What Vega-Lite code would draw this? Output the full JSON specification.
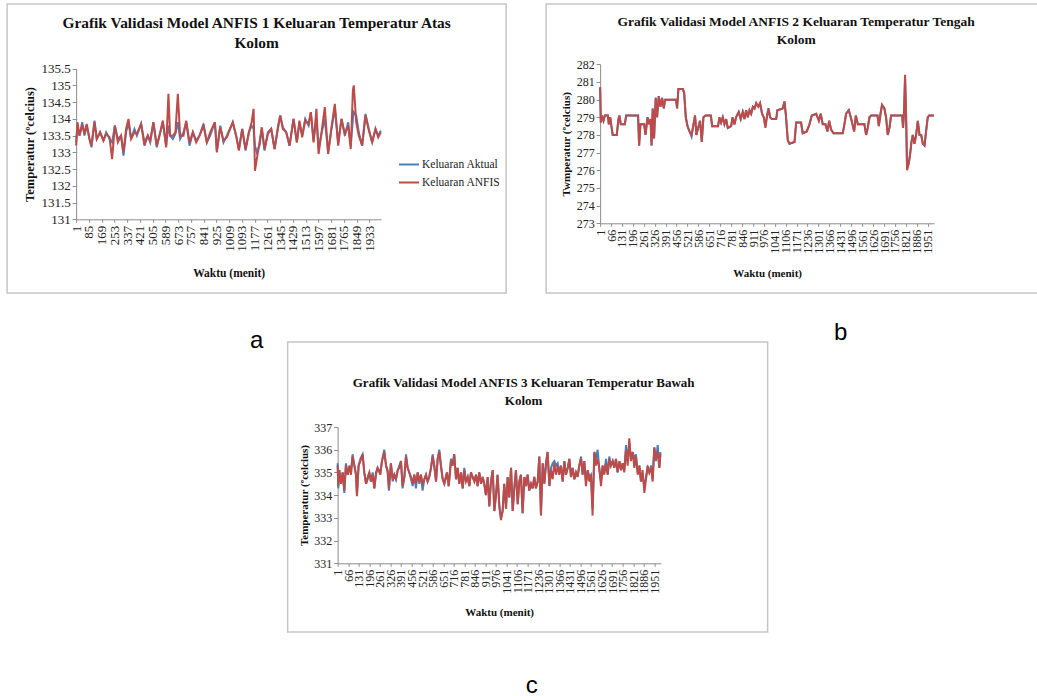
{
"$schema": "https://vega.github.io/schema/vega-lite/v6.json",
"padding": {"left": 6, "top": 3, "right": 0, "bottom": 0},
"config": {
  "view": {"stroke": "#c6c6c6", "strokeWidth": 1.5},
  "font": "Liberation Serif",
  "axis": {"grid": false, "domainColor": "#8c8c8c", "tickColor": "#8c8c8c", "labelColor": "#222222", "titleColor": "#111111", "labelFont": "Liberation Serif", "titleFont": "Liberation Serif", "titleFontWeight": "bold", "tickSize": 4, "labelOverlap": false, "labelFlush": false, "labelBound": false, "titleBaseline": "middle"},
  "legend": {"symbolType": "stroke", "symbolStrokeWidth": 2.5, "symbolSize": 400, "labelOffset": 2, "padding": 0, "rowPadding": 0, "labelFont": "Liberation Serif", "labelColor": "#222222", "labelLimit": 0},
  "title": {"font": "Liberation Serif", "fontWeight": "bold", "color": "#111111"},
  "line": {"strokeWidth": 2}
},
"datasets": {
"A": [
{"t":1,"Aktual":133.3,"ANFIS":133.2},{"t":10,"Aktual":133.8,"ANFIS":133.9},{"t":23,"Aktual":133.5,"ANFIS":133.5},{"t":41,"Aktual":133.9,"ANFIS":133.8},{"t":56,"Aktual":133.5,"ANFIS":133.6},{"t":71,"Aktual":133.8,"ANFIS":133.85},{"t":89,"Aktual":133.4,"ANFIS":133.4},{"t":102,"Aktual":133.15,"ANFIS":133.2},{"t":122,"Aktual":133.95,"ANFIS":133.9},{"t":137,"Aktual":133.4,"ANFIS":133.4},{"t":159,"Aktual":133.6,"ANFIS":133.6},{"t":181,"Aktual":133.35,"ANFIS":133.35},{"t":199,"Aktual":133.6,"ANFIS":133.55},{"t":221,"Aktual":133.4,"ANFIS":133.45},{"t":238,"Aktual":133.3,"ANFIS":132.8},{"t":256,"Aktual":133.8,"ANFIS":133.8},{"t":276,"Aktual":133.4,"ANFIS":133.3},{"t":297,"Aktual":133.5,"ANFIS":133.5},{"t":313,"Aktual":132.9,"ANFIS":133.0},{"t":330,"Aktual":133.6,"ANFIS":133.7},{"t":346,"Aktual":133.9,"ANFIS":134.0},{"t":363,"Aktual":133.4,"ANFIS":133.4},{"t":385,"Aktual":133.7,"ANFIS":133.6},{"t":401,"Aktual":133.5,"ANFIS":133.55},{"t":429,"Aktual":133.85,"ANFIS":133.85},{"t":451,"Aktual":133.3,"ANFIS":133.2},{"t":473,"Aktual":133.5,"ANFIS":133.5},{"t":489,"Aktual":133.3,"ANFIS":133.35},{"t":510,"Aktual":133.9,"ANFIS":133.9},{"t":532,"Aktual":133.15,"ANFIS":133.2},{"t":550,"Aktual":133.5,"ANFIS":133.5},{"t":572,"Aktual":133.9,"ANFIS":133.95},{"t":594,"Aktual":133.2,"ANFIS":133.15},{"t":609,"Aktual":133.8,"ANFIS":134.75},{"t":620,"Aktual":133.5,"ANFIS":133.5},{"t":638,"Aktual":133.4,"ANFIS":133.5},{"t":655,"Aktual":133.55,"ANFIS":133.6},{"t":671,"Aktual":133.9,"ANFIS":134.75},{"t":686,"Aktual":133.4,"ANFIS":133.5},{"t":708,"Aktual":133.6,"ANFIS":133.5},{"t":726,"Aktual":133.9,"ANFIS":133.95},{"t":748,"Aktual":133.2,"ANFIS":133.3},{"t":770,"Aktual":133.6,"ANFIS":133.6},{"t":792,"Aktual":133.35,"ANFIS":133.3},{"t":814,"Aktual":133.5,"ANFIS":133.5},{"t":840,"Aktual":133.85,"ANFIS":133.8},{"t":862,"Aktual":133.3,"ANFIS":133.3},{"t":884,"Aktual":133.5,"ANFIS":133.6},{"t":915,"Aktual":133.9,"ANFIS":133.9},{"t":928,"Aktual":133.05,"ANFIS":133.0},{"t":950,"Aktual":133.8,"ANFIS":133.75},{"t":972,"Aktual":133.3,"ANFIS":133.35},{"t":994,"Aktual":133.5,"ANFIS":133.45},{"t":1033,"Aktual":133.9,"ANFIS":133.9},{"t":1055,"Aktual":133.5,"ANFIS":133.5},{"t":1073,"Aktual":133.1,"ANFIS":133.05},{"t":1095,"Aktual":133.7,"ANFIS":133.7},{"t":1117,"Aktual":133.05,"ANFIS":133.1},{"t":1139,"Aktual":133.6,"ANFIS":133.6},{"t":1157,"Aktual":133.8,"ANFIS":133.9},{"t":1170,"Aktual":133.7,"ANFIS":134.3},{"t":1179,"Aktual":133.2,"ANFIS":132.45},{"t":1191,"Aktual":133.0,"ANFIS":132.8},{"t":1209,"Aktual":133.2,"ANFIS":133.3},{"t":1224,"Aktual":133.7,"ANFIS":133.75},{"t":1242,"Aktual":133.05,"ANFIS":133.1},{"t":1264,"Aktual":133.6,"ANFIS":133.55},{"t":1286,"Aktual":133.7,"ANFIS":133.7},{"t":1308,"Aktual":133.1,"ANFIS":133.1},{"t":1330,"Aktual":133.7,"ANFIS":133.75},{"t":1345,"Aktual":134.1,"ANFIS":134.1},{"t":1363,"Aktual":133.75,"ANFIS":133.7},{"t":1385,"Aktual":133.6,"ANFIS":133.6},{"t":1407,"Aktual":133.2,"ANFIS":133.2},{"t":1433,"Aktual":134.0,"ANFIS":134.0},{"t":1455,"Aktual":133.3,"ANFIS":133.3},{"t":1472,"Aktual":133.9,"ANFIS":133.95},{"t":1490,"Aktual":133.5,"ANFIS":133.45},{"t":1510,"Aktual":134.0,"ANFIS":133.95},{"t":1532,"Aktual":133.8,"ANFIS":133.85},{"t":1547,"Aktual":134.2,"ANFIS":134.2},{"t":1565,"Aktual":133.35,"ANFIS":133.3},{"t":1584,"Aktual":134.0,"ANFIS":134.3},{"t":1598,"Aktual":133.1,"ANFIS":132.95},{"t":1619,"Aktual":133.6,"ANFIS":133.65},{"t":1639,"Aktual":134.0,"ANFIS":134.35},{"t":1661,"Aktual":133.0,"ANFIS":132.95},{"t":1683,"Aktual":133.7,"ANFIS":133.75},{"t":1705,"Aktual":134.3,"ANFIS":134.45},{"t":1727,"Aktual":133.3,"ANFIS":133.2},{"t":1749,"Aktual":134.0,"ANFIS":134.0},{"t":1771,"Aktual":133.5,"ANFIS":133.55},{"t":1793,"Aktual":133.9,"ANFIS":133.8},{"t":1810,"Aktual":133.2,"ANFIS":133.1},{"t":1824,"Aktual":134.0,"ANFIS":134.85},{"t":1830,"Aktual":134.2,"ANFIS":135.0},{"t":1846,"Aktual":134.1,"ANFIS":133.9},{"t":1863,"Aktual":133.6,"ANFIS":133.5},{"t":1885,"Aktual":133.2,"ANFIS":133.2},{"t":1907,"Aktual":134.15,"ANFIS":134.1},{"t":1929,"Aktual":133.7,"ANFIS":133.65},{"t":1951,"Aktual":133.3,"ANFIS":133.3},{"t":1973,"Aktual":133.7,"ANFIS":133.7},{"t":1991,"Aktual":133.5,"ANFIS":133.45},{"t":2008,"Aktual":133.65,"ANFIS":133.6}
],
"B": [
{"t":1,"Aktual":280.7,"ANFIS":280.7},{"t":5,"Aktual":278.7,"ANFIS":278.7},{"t":11,"Aktual":279.1,"ANFIS":279.1},{"t":21,"Aktual":278.8,"ANFIS":278.8},{"t":29,"Aktual":279.1,"ANFIS":279.1},{"t":47,"Aktual":279.1,"ANFIS":279.1},{"t":53,"Aktual":278.6,"ANFIS":278.6},{"t":61,"Aktual":279.0,"ANFIS":279.0},{"t":68,"Aktual":278.5,"ANFIS":278.5},{"t":76,"Aktual":278.0,"ANFIS":278.0},{"t":100,"Aktual":278.0,"ANFIS":278.0},{"t":110,"Aktual":278.9,"ANFIS":278.9},{"t":116,"Aktual":279.1,"ANFIS":279.1},{"t":124,"Aktual":278.6,"ANFIS":278.6},{"t":148,"Aktual":278.6,"ANFIS":278.6},{"t":156,"Aktual":279.1,"ANFIS":279.1},{"t":227,"Aktual":279.1,"ANFIS":279.1},{"t":233,"Aktual":277.4,"ANFIS":277.4},{"t":241,"Aktual":278.6,"ANFIS":278.6},{"t":263,"Aktual":278.6,"ANFIS":278.6},{"t":271,"Aktual":278.0,"ANFIS":278.0},{"t":283,"Aktual":279.0,"ANFIS":279.0},{"t":293,"Aktual":278.6,"ANFIS":278.6},{"t":301,"Aktual":278.9,"ANFIS":278.9},{"t":307,"Aktual":277.4,"ANFIS":277.4},{"t":314,"Aktual":279.5,"ANFIS":279.5},{"t":322,"Aktual":277.8,"ANFIS":277.8},{"t":332,"Aktual":280.1,"ANFIS":280.1},{"t":340,"Aktual":279.0,"ANFIS":279.0},{"t":350,"Aktual":280.2,"ANFIS":280.2},{"t":360,"Aktual":279.6,"ANFIS":279.6},{"t":370,"Aktual":280.1,"ANFIS":280.1},{"t":380,"Aktual":279.5,"ANFIS":279.5},{"t":388,"Aktual":280.0,"ANFIS":280.0},{"t":453,"Aktual":280.0,"ANFIS":280.0},{"t":459,"Aktual":279.5,"ANFIS":279.5},{"t":467,"Aktual":280.6,"ANFIS":280.6},{"t":493,"Aktual":280.6,"ANFIS":280.6},{"t":501,"Aktual":280.4,"ANFIS":280.4},{"t":511,"Aktual":279.0,"ANFIS":279.0},{"t":521,"Aktual":278.5,"ANFIS":278.5},{"t":533,"Aktual":278.2,"ANFIS":278.2},{"t":545,"Aktual":277.9,"ANFIS":278.0},{"t":555,"Aktual":278.5,"ANFIS":278.5},{"t":566,"Aktual":279.1,"ANFIS":279.1},{"t":574,"Aktual":278.0,"ANFIS":278.0},{"t":584,"Aktual":278.4,"ANFIS":278.4},{"t":596,"Aktual":278.8,"ANFIS":278.8},{"t":606,"Aktual":277.6,"ANFIS":277.6},{"t":616,"Aktual":279.0,"ANFIS":279.0},{"t":628,"Aktual":279.1,"ANFIS":279.1},{"t":660,"Aktual":279.1,"ANFIS":279.1},{"t":668,"Aktual":278.5,"ANFIS":278.5},{"t":703,"Aktual":278.5,"ANFIS":278.5},{"t":711,"Aktual":279.0,"ANFIS":279.0},{"t":721,"Aktual":278.7,"ANFIS":278.7},{"t":731,"Aktual":279.0,"ANFIS":279.0},{"t":741,"Aktual":278.6,"ANFIS":278.6},{"t":751,"Aktual":278.9,"ANFIS":278.9},{"t":761,"Aktual":278.4,"ANFIS":278.4},{"t":781,"Aktual":278.5,"ANFIS":278.5},{"t":789,"Aktual":279.0,"ANFIS":279.0},{"t":801,"Aktual":278.6,"ANFIS":278.6},{"t":810,"Aktual":279.0,"ANFIS":279.0},{"t":826,"Aktual":279.3,"ANFIS":279.3},{"t":838,"Aktual":278.9,"ANFIS":278.9},{"t":850,"Aktual":279.3,"ANFIS":279.3},{"t":860,"Aktual":278.9,"ANFIS":278.9},{"t":870,"Aktual":279.4,"ANFIS":279.4},{"t":880,"Aktual":279.0,"ANFIS":279.0},{"t":890,"Aktual":279.4,"ANFIS":279.4},{"t":900,"Aktual":279.2,"ANFIS":279.2},{"t":910,"Aktual":279.6,"ANFIS":279.6},{"t":920,"Aktual":279.5,"ANFIS":279.5},{"t":930,"Aktual":279.8,"ANFIS":279.8},{"t":943,"Aktual":279.6,"ANFIS":279.6},{"t":953,"Aktual":279.8,"ANFIS":279.8},{"t":965,"Aktual":279.2,"ANFIS":279.2},{"t":975,"Aktual":279.0,"ANFIS":279.0},{"t":985,"Aktual":278.5,"ANFIS":278.4},{"t":993,"Aktual":279.0,"ANFIS":279.0},{"t":1003,"Aktual":279.5,"ANFIS":279.5},{"t":1013,"Aktual":279.0,"ANFIS":279.0},{"t":1023,"Aktual":278.9,"ANFIS":278.9},{"t":1049,"Aktual":278.9,"ANFIS":278.9},{"t":1056,"Aktual":279.4,"ANFIS":279.4},{"t":1088,"Aktual":279.5,"ANFIS":279.5},{"t":1098,"Aktual":279.9,"ANFIS":279.9},{"t":1106,"Aktual":279.2,"ANFIS":279.2},{"t":1118,"Aktual":277.7,"ANFIS":277.7},{"t":1128,"Aktual":277.5,"ANFIS":277.5},{"t":1158,"Aktual":277.6,"ANFIS":277.6},{"t":1168,"Aktual":278.7,"ANFIS":278.7},{"t":1197,"Aktual":278.7,"ANFIS":278.7},{"t":1207,"Aktual":278.1,"ANFIS":278.1},{"t":1231,"Aktual":278.2,"ANFIS":278.2},{"t":1247,"Aktual":278.6,"ANFIS":278.6},{"t":1261,"Aktual":279.1,"ANFIS":279.1},{"t":1287,"Aktual":279.2,"ANFIS":279.2},{"t":1303,"Aktual":278.8,"ANFIS":278.8},{"t":1314,"Aktual":279.2,"ANFIS":279.2},{"t":1326,"Aktual":278.6,"ANFIS":278.6},{"t":1342,"Aktual":278.6,"ANFIS":278.6},{"t":1354,"Aktual":278.2,"ANFIS":278.2},{"t":1364,"Aktual":278.8,"ANFIS":278.8},{"t":1376,"Aktual":278.3,"ANFIS":278.3},{"t":1390,"Aktual":278.1,"ANFIS":278.1},{"t":1445,"Aktual":278.1,"ANFIS":278.1},{"t":1455,"Aktual":278.6,"ANFIS":278.6},{"t":1465,"Aktual":279.2,"ANFIS":279.2},{"t":1481,"Aktual":279.4,"ANFIS":279.4},{"t":1493,"Aktual":279.0,"ANFIS":279.0},{"t":1503,"Aktual":278.6,"ANFIS":278.6},{"t":1513,"Aktual":278.2,"ANFIS":278.2},{"t":1523,"Aktual":279.1,"ANFIS":279.1},{"t":1535,"Aktual":278.6,"ANFIS":278.6},{"t":1574,"Aktual":278.6,"ANFIS":278.6},{"t":1584,"Aktual":278.0,"ANFIS":278.0},{"t":1594,"Aktual":278.4,"ANFIS":278.4},{"t":1604,"Aktual":279.0,"ANFIS":279.0},{"t":1614,"Aktual":279.1,"ANFIS":279.1},{"t":1652,"Aktual":279.1,"ANFIS":279.1},{"t":1660,"Aktual":278.5,"ANFIS":278.5},{"t":1670,"Aktual":279.2,"ANFIS":279.2},{"t":1679,"Aktual":279.7,"ANFIS":279.7},{"t":1693,"Aktual":279.5,"ANFIS":279.5},{"t":1703,"Aktual":279.0,"ANFIS":279.0},{"t":1713,"Aktual":278.0,"ANFIS":278.0},{"t":1723,"Aktual":278.4,"ANFIS":278.4},{"t":1733,"Aktual":279.1,"ANFIS":279.1},{"t":1799,"Aktual":279.1,"ANFIS":279.1},{"t":1804,"Aktual":278.4,"ANFIS":278.4},{"t":1810,"Aktual":279.3,"ANFIS":279.3},{"t":1816,"Aktual":281.2,"ANFIS":281.4},{"t":1822,"Aktual":279.2,"ANFIS":279.2},{"t":1828,"Aktual":276.1,"ANFIS":276.0},{"t":1838,"Aktual":276.4,"ANFIS":276.4},{"t":1846,"Aktual":276.9,"ANFIS":276.9},{"t":1854,"Aktual":277.6,"ANFIS":277.6},{"t":1862,"Aktual":278.0,"ANFIS":278.0},{"t":1872,"Aktual":277.5,"ANFIS":277.5},{"t":1882,"Aktual":278.0,"ANFIS":278.0},{"t":1892,"Aktual":278.8,"ANFIS":278.8},{"t":1902,"Aktual":278.0,"ANFIS":278.0},{"t":1912,"Aktual":278.0,"ANFIS":278.0},{"t":1922,"Aktual":277.5,"ANFIS":277.5},{"t":1932,"Aktual":277.4,"ANFIS":277.4},{"t":1941,"Aktual":278.2,"ANFIS":278.2},{"t":1951,"Aktual":279.0,"ANFIS":279.0},{"t":1959,"Aktual":279.1,"ANFIS":279.1},{"t":1988,"Aktual":279.1,"ANFIS":279.1}
],
"C": [
{"t":1,"Aktual":335.4,"ANFIS":335.3},{"t":5,"Aktual":334.3,"ANFIS":334.4},{"t":11,"Aktual":335.1,"ANFIS":335.1},{"t":22,"Aktual":334.6,"ANFIS":334.5},{"t":32,"Aktual":335.0,"ANFIS":335.0},{"t":42,"Aktual":334.1,"ANFIS":334.2},{"t":52,"Aktual":335.4,"ANFIS":335.3},{"t":63,"Aktual":334.9,"ANFIS":334.9},{"t":73,"Aktual":335.2,"ANFIS":335.3},{"t":83,"Aktual":335.0,"ANFIS":334.9},{"t":93,"Aktual":335.8,"ANFIS":335.7},{"t":104,"Aktual":335.3,"ANFIS":335.3},{"t":114,"Aktual":334.9,"ANFIS":334.9},{"t":120,"Aktual":334.0,"ANFIS":333.95},{"t":130,"Aktual":335.3,"ANFIS":335.3},{"t":141,"Aktual":335.6,"ANFIS":335.5},{"t":155,"Aktual":335.8,"ANFIS":335.8},{"t":165,"Aktual":335.0,"ANFIS":335.0},{"t":176,"Aktual":334.5,"ANFIS":334.5},{"t":186,"Aktual":334.7,"ANFIS":334.8},{"t":196,"Aktual":335.0,"ANFIS":335.0},{"t":206,"Aktual":334.6,"ANFIS":334.6},{"t":217,"Aktual":335.0,"ANFIS":334.9},{"t":227,"Aktual":334.3,"ANFIS":334.3},{"t":237,"Aktual":334.9,"ANFIS":335.0},{"t":247,"Aktual":335.2,"ANFIS":335.2},{"t":264,"Aktual":335.0,"ANFIS":334.9},{"t":274,"Aktual":335.5,"ANFIS":335.5},{"t":288,"Aktual":336.0,"ANFIS":335.9},{"t":299,"Aktual":335.3,"ANFIS":335.3},{"t":309,"Aktual":335.0,"ANFIS":335.1},{"t":317,"Aktual":334.2,"ANFIS":334.3},{"t":329,"Aktual":335.4,"ANFIS":335.4},{"t":340,"Aktual":334.6,"ANFIS":334.7},{"t":350,"Aktual":334.9,"ANFIS":334.9},{"t":360,"Aktual":334.7,"ANFIS":334.7},{"t":371,"Aktual":335.1,"ANFIS":335.1},{"t":381,"Aktual":335.3,"ANFIS":335.2},{"t":391,"Aktual":335.5,"ANFIS":335.5},{"t":401,"Aktual":334.3,"ANFIS":334.4},{"t":412,"Aktual":334.8,"ANFIS":334.8},{"t":422,"Aktual":335.8,"ANFIS":335.7},{"t":432,"Aktual":335.2,"ANFIS":335.2},{"t":442,"Aktual":335.0,"ANFIS":335.0},{"t":453,"Aktual":334.7,"ANFIS":334.8},{"t":463,"Aktual":334.4,"ANFIS":334.5},{"t":473,"Aktual":334.9,"ANFIS":334.9},{"t":483,"Aktual":334.3,"ANFIS":334.5},{"t":494,"Aktual":335.0,"ANFIS":335.0},{"t":504,"Aktual":334.5,"ANFIS":334.6},{"t":514,"Aktual":334.9,"ANFIS":334.9},{"t":524,"Aktual":334.2,"ANFIS":334.5},{"t":535,"Aktual":334.7,"ANFIS":334.7},{"t":545,"Aktual":334.9,"ANFIS":334.9},{"t":555,"Aktual":334.6,"ANFIS":334.6},{"t":565,"Aktual":334.8,"ANFIS":334.8},{"t":576,"Aktual":335.2,"ANFIS":335.2},{"t":586,"Aktual":335.8,"ANFIS":335.7},{"t":596,"Aktual":335.3,"ANFIS":335.3},{"t":607,"Aktual":334.6,"ANFIS":334.6},{"t":617,"Aktual":335.6,"ANFIS":335.6},{"t":627,"Aktual":336.0,"ANFIS":335.9},{"t":637,"Aktual":335.3,"ANFIS":335.3},{"t":648,"Aktual":334.7,"ANFIS":334.7},{"t":658,"Aktual":334.5,"ANFIS":334.5},{"t":674,"Aktual":335.0,"ANFIS":335.0},{"t":685,"Aktual":334.4,"ANFIS":334.4},{"t":699,"Aktual":335.6,"ANFIS":335.5},{"t":709,"Aktual":335.3,"ANFIS":335.3},{"t":719,"Aktual":335.8,"ANFIS":335.8},{"t":730,"Aktual":334.7,"ANFIS":334.7},{"t":740,"Aktual":335.2,"ANFIS":335.2},{"t":750,"Aktual":334.5,"ANFIS":334.5},{"t":761,"Aktual":335.0,"ANFIS":335.0},{"t":771,"Aktual":334.3,"ANFIS":334.3},{"t":781,"Aktual":335.2,"ANFIS":335.1},{"t":791,"Aktual":334.6,"ANFIS":334.6},{"t":802,"Aktual":334.8,"ANFIS":334.8},{"t":812,"Aktual":334.4,"ANFIS":334.4},{"t":822,"Aktual":335.0,"ANFIS":335.0},{"t":832,"Aktual":334.8,"ANFIS":334.8},{"t":843,"Aktual":334.6,"ANFIS":334.6},{"t":853,"Aktual":334.9,"ANFIS":334.9},{"t":863,"Aktual":334.4,"ANFIS":334.4},{"t":873,"Aktual":335.0,"ANFIS":335.0},{"t":884,"Aktual":334.5,"ANFIS":334.5},{"t":894,"Aktual":334.8,"ANFIS":334.8},{"t":904,"Aktual":334.5,"ANFIS":334.5},{"t":914,"Aktual":334.0,"ANFIS":334.0},{"t":925,"Aktual":334.8,"ANFIS":334.8},{"t":935,"Aktual":333.5,"ANFIS":333.5},{"t":945,"Aktual":334.6,"ANFIS":334.6},{"t":956,"Aktual":335.1,"ANFIS":335.1},{"t":966,"Aktual":333.3,"ANFIS":333.3},{"t":976,"Aktual":334.0,"ANFIS":334.0},{"t":986,"Aktual":334.9,"ANFIS":334.9},{"t":997,"Aktual":333.5,"ANFIS":333.5},{"t":1007,"Aktual":333.0,"ANFIS":332.9},{"t":1017,"Aktual":333.3,"ANFIS":333.3},{"t":1027,"Aktual":334.5,"ANFIS":334.5},{"t":1038,"Aktual":333.4,"ANFIS":333.4},{"t":1048,"Aktual":334.8,"ANFIS":334.8},{"t":1058,"Aktual":333.9,"ANFIS":333.9},{"t":1069,"Aktual":335.2,"ANFIS":335.2},{"t":1079,"Aktual":333.3,"ANFIS":333.3},{"t":1089,"Aktual":334.3,"ANFIS":334.3},{"t":1099,"Aktual":335.1,"ANFIS":335.1},{"t":1110,"Aktual":333.6,"ANFIS":333.6},{"t":1120,"Aktual":334.6,"ANFIS":334.6},{"t":1130,"Aktual":334.9,"ANFIS":334.9},{"t":1140,"Aktual":333.2,"ANFIS":333.2},{"t":1151,"Aktual":334.8,"ANFIS":334.8},{"t":1161,"Aktual":334.4,"ANFIS":334.4},{"t":1171,"Aktual":334.9,"ANFIS":334.9},{"t":1181,"Aktual":334.2,"ANFIS":334.2},{"t":1192,"Aktual":334.5,"ANFIS":334.5},{"t":1202,"Aktual":334.3,"ANFIS":334.3},{"t":1212,"Aktual":334.8,"ANFIS":334.8},{"t":1222,"Aktual":334.3,"ANFIS":334.3},{"t":1233,"Aktual":334.6,"ANFIS":334.6},{"t":1243,"Aktual":335.7,"ANFIS":335.7},{"t":1253,"Aktual":333.2,"ANFIS":333.1},{"t":1264,"Aktual":335.4,"ANFIS":335.4},{"t":1274,"Aktual":334.5,"ANFIS":334.5},{"t":1284,"Aktual":335.4,"ANFIS":335.4},{"t":1294,"Aktual":335.9,"ANFIS":335.9},{"t":1305,"Aktual":334.4,"ANFIS":334.4},{"t":1315,"Aktual":335.2,"ANFIS":335.1},{"t":1325,"Aktual":335.4,"ANFIS":334.7},{"t":1335,"Aktual":335.5,"ANFIS":335.4},{"t":1346,"Aktual":335.3,"ANFIS":334.9},{"t":1356,"Aktual":335.4,"ANFIS":335.3},{"t":1366,"Aktual":335.0,"ANFIS":334.9},{"t":1376,"Aktual":335.3,"ANFIS":335.3},{"t":1387,"Aktual":334.6,"ANFIS":334.6},{"t":1397,"Aktual":335.5,"ANFIS":335.5},{"t":1407,"Aktual":334.9,"ANFIS":334.9},{"t":1418,"Aktual":335.2,"ANFIS":335.2},{"t":1428,"Aktual":335.6,"ANFIS":335.6},{"t":1438,"Aktual":334.8,"ANFIS":334.8},{"t":1448,"Aktual":335.2,"ANFIS":335.2},{"t":1459,"Aktual":334.7,"ANFIS":334.7},{"t":1469,"Aktual":335.0,"ANFIS":335.0},{"t":1479,"Aktual":334.8,"ANFIS":334.8},{"t":1489,"Aktual":335.3,"ANFIS":335.3},{"t":1500,"Aktual":335.7,"ANFIS":335.6},{"t":1510,"Aktual":334.9,"ANFIS":334.9},{"t":1520,"Aktual":335.5,"ANFIS":335.5},{"t":1530,"Aktual":334.6,"ANFIS":334.4},{"t":1541,"Aktual":335.1,"ANFIS":335.1},{"t":1551,"Aktual":334.8,"ANFIS":334.6},{"t":1561,"Aktual":334.9,"ANFIS":334.9},{"t":1571,"Aktual":333.4,"ANFIS":333.1},{"t":1582,"Aktual":335.9,"ANFIS":335.9},{"t":1592,"Aktual":335.6,"ANFIS":335.3},{"t":1602,"Aktual":336.0,"ANFIS":335.6},{"t":1612,"Aktual":335.2,"ANFIS":335.2},{"t":1623,"Aktual":334.6,"ANFIS":334.4},{"t":1633,"Aktual":335.3,"ANFIS":335.3},{"t":1643,"Aktual":335.0,"ANFIS":334.9},{"t":1654,"Aktual":335.6,"ANFIS":335.4},{"t":1664,"Aktual":334.9,"ANFIS":334.9},{"t":1674,"Aktual":335.7,"ANFIS":335.6},{"t":1684,"Aktual":335.3,"ANFIS":335.3},{"t":1695,"Aktual":335.5,"ANFIS":335.5},{"t":1705,"Aktual":335.2,"ANFIS":335.2},{"t":1715,"Aktual":335.6,"ANFIS":335.6},{"t":1725,"Aktual":335.0,"ANFIS":335.0},{"t":1736,"Aktual":335.5,"ANFIS":335.5},{"t":1746,"Aktual":335.1,"ANFIS":335.1},{"t":1756,"Aktual":335.4,"ANFIS":335.4},{"t":1766,"Aktual":335.1,"ANFIS":335.0},{"t":1777,"Aktual":336.2,"ANFIS":336.0},{"t":1787,"Aktual":335.5,"ANFIS":335.3},{"t":1797,"Aktual":336.3,"ANFIS":336.5},{"t":1807,"Aktual":335.6,"ANFIS":335.5},{"t":1818,"Aktual":335.9,"ANFIS":335.9},{"t":1828,"Aktual":335.6,"ANFIS":335.2},{"t":1838,"Aktual":335.8,"ANFIS":335.7},{"t":1849,"Aktual":335.0,"ANFIS":334.9},{"t":1859,"Aktual":335.3,"ANFIS":335.3},{"t":1869,"Aktual":334.6,"ANFIS":334.6},{"t":1879,"Aktual":334.8,"ANFIS":335.1},{"t":1890,"Aktual":334.4,"ANFIS":334.1},{"t":1900,"Aktual":334.8,"ANFIS":334.7},{"t":1910,"Aktual":335.2,"ANFIS":335.3},{"t":1920,"Aktual":335.0,"ANFIS":335.0},{"t":1931,"Aktual":335.3,"ANFIS":335.2},{"t":1941,"Aktual":334.7,"ANFIS":334.6},{"t":1951,"Aktual":336.1,"ANFIS":336.1},{"t":1961,"Aktual":335.5,"ANFIS":335.6},{"t":1972,"Aktual":336.2,"ANFIS":335.9},{"t":1982,"Aktual":335.2,"ANFIS":335.2},{"t":1989,"Aktual":335.9,"ANFIS":335.8}
]
},
"vconcat": [
  {"hconcat": [
    {
      "width": 499, "height": 289,
      "data": {"name": "A"},
      "transform": [{"fold": ["Aktual", "ANFIS"], "as": ["seri", "nilai"]}],
      "title": {"text": ["Grafik Validasi Model ANFIS 1 Keluaran Temperatur Atas", "Kolom"], "orient": "top", "anchor": "middle", "frame": "group", "baseline": "top", "offset": -47, "fontSize": 15.4, "lineHeight": 19.7},
      "mark": {"type": "line", "strokeWidth": 2},
      "encoding": {
        "x": {"field": "t", "type": "quantitative", "scale": {"domain": [1, 2010], "range": [69, 374], "nice": false, "zero": false},
              "axis": {"title": "Waktu (menit)", "offset": -73.7, "values": [1,85,169,253,337,421,505,589,673,757,841,925,1009,1093,1177,1261,1345,1429,1513,1597,1681,1765,1849,1933], "format": "d", "labelAngle": 270, "labelFontSize": 13, "labelPadding": 3, "tickSize": 3, "titleFontSize": 11.5, "titleX": 221.5, "titleY": 53.7}},
        "y": {"field": "nilai", "type": "quantitative", "scale": {"domain": [131, 135.5], "range": [215.3, 64.7], "nice": false, "zero": false},
              "axis": {"title": "Temperatur (ºcelcius)", "offset": -69, "values": [131,131.5,132,132.5,133,133.5,134,134.5,135,135.5], "format": "~g", "labelFontSize": 13, "labelPadding": 2, "titleFontSize": 12.5, "titleX": -47, "titleY": 140}},
        "color": {"field": "seri", "type": "nominal", "scale": {"domain": ["Aktual", "ANFIS"], "range": ["#4a7ebb", "#be4b48"]},
                  "legend": {"title": null, "orient": "none", "legendX": 391, "legendY": 149.5, "rowPadding": 1, "labelFontSize": 11.5, "labelExpr": "'Keluaran ' + datum.label"}}
      }
    },
    {
      "width": 581, "height": 289,
      "data": {"name": "B"},
      "transform": [{"fold": ["Aktual", "ANFIS"], "as": ["seri", "nilai"]}],
      "title": {"text": ["Grafik Validasi Model ANFIS 2 Keluaran Temperatur Tengah", "Kolom"], "orient": "top", "anchor": "middle", "frame": "group", "baseline": "top", "offset": -43, "dx": -40.5, "fontSize": 13.5, "lineHeight": 18.7},
      "mark": {"type": "line", "strokeWidth": 2},
      "encoding": {
        "x": {"field": "t", "type": "quantitative", "scale": {"domain": [1, 1989], "range": [54, 388], "nice": false, "zero": false},
              "axis": {"title": "Waktu (menit)", "offset": -69.7, "values": [1,66,131,196,261,326,391,456,521,586,651,716,781,846,911,976,1041,1106,1171,1236,1301,1366,1431,1496,1561,1626,1691,1756,1821,1886,1951], "format": "d", "labelAngle": 270, "labelFontSize": 12, "labelPadding": 3, "tickSize": 3, "titleFontSize": 11, "titleX": 221, "titleY": 50}},
        "y": {"field": "nilai", "type": "quantitative", "scale": {"domain": [273, 282], "range": [219.3, 60.3], "nice": false, "zero": false},
              "axis": {"title": "Twmperatur (ºcelcius)", "offset": -54, "values": [273,274,275,276,277,278,279,280,281,282], "format": "d", "labelFontSize": 12, "labelPadding": 2, "titleFontSize": 11, "titleX": -34, "titleY": 139.8}},
        "color": {"field": "seri", "type": "nominal", "scale": {"domain": ["Aktual", "ANFIS"], "range": ["#4a7ebb", "#be4b48"]},
                  "legend": {"title": null, "orient": "none", "legendX": 404, "legendY": 149.3, "rowPadding": 0, "labelFontSize": 10.5, "labelExpr": "'Keluaran ' + datum.label"}}
      }
    }
  ], "spacing": 38},
  {"title": {"text": "b", "orient": "top", "anchor": "middle", "frame": "bounds", "offset": -35, "dx": 331.5, "baseline": "alphabetic", "font": "Liberation Sans", "fontSize": 24, "fontWeight": "normal", "color": "#000000"},
   "vconcat": [
    {"title": {"text": "a", "orient": "top", "anchor": "middle", "frame": "bounds", "offset": -30.5, "dx": -271, "baseline": "alphabetic", "font": "Liberation Sans", "fontSize": 24, "fontWeight": "normal", "color": "#000000"},
     "vconcat": [
      {"title": {"text": "c", "orient": "bottom", "anchor": "middle", "offset": 60, "dx": 4, "baseline": "alphabetic", "font": "Liberation Sans", "fontSize": 24, "fontWeight": "normal", "color": "#000000"},
       "vconcat": [{
        "width": 480, "height": 290,
        "data": {"name": "C"},
        "transform": [{"fold": ["Aktual", "ANFIS"], "as": ["seri", "nilai"]}],
        "title": {"text": ["Grafik Validasi Model ANFIS 3 Keluaran Temperatur Bawah", "Kolom"], "orient": "top", "anchor": "middle", "frame": "group", "baseline": "top", "offset": -66.5, "dx": -4, "fontSize": 13, "lineHeight": 18.3},
        "mark": {"type": "line", "strokeWidth": 2},
        "encoding": {
          "x": {"field": "t", "type": "quantitative", "scale": {"domain": [1, 1992], "range": [50, 373.3], "nice": false, "zero": false},
                "axis": {"title": "Waktu (menit)", "offset": -68.7, "values": [1,66,131,196,261,326,391,456,521,586,651,716,781,846,911,976,1041,1106,1171,1236,1301,1366,1431,1496,1561,1626,1691,1756,1821,1886,1951], "format": "d", "labelAngle": 270, "labelFontSize": 12, "labelPadding": 3, "tickSize": 3, "titleFontSize": 11, "titleX": 211.5, "titleY": 49.4}},
          "y": {"field": "nilai", "type": "quantitative", "scale": {"domain": [331, 337], "range": [221.3, 85], "nice": false, "zero": false},
                "axis": {"title": "Temperatur (ºcelcius)", "offset": -50, "values": [331,332,333,334,335,336,337], "format": "d", "labelFontSize": 12, "labelPadding": 2, "titleFontSize": 11, "titleX": -33.3, "titleY": 153}},
          "color": {"field": "seri", "type": "nominal", "scale": {"domain": ["Aktual", "ANFIS"], "range": ["#4a7ebb", "#be4b48"]},
                    "legend": {"title": null, "orient": "none", "legendX": 388, "legendY": 162.3, "rowPadding": 0, "labelFontSize": 10.3, "labelExpr": "'Keluaran ' + datum.label"}}
        }
      }]}
     ]}
   ]}
],
"spacing": 26,
"center": true
}
